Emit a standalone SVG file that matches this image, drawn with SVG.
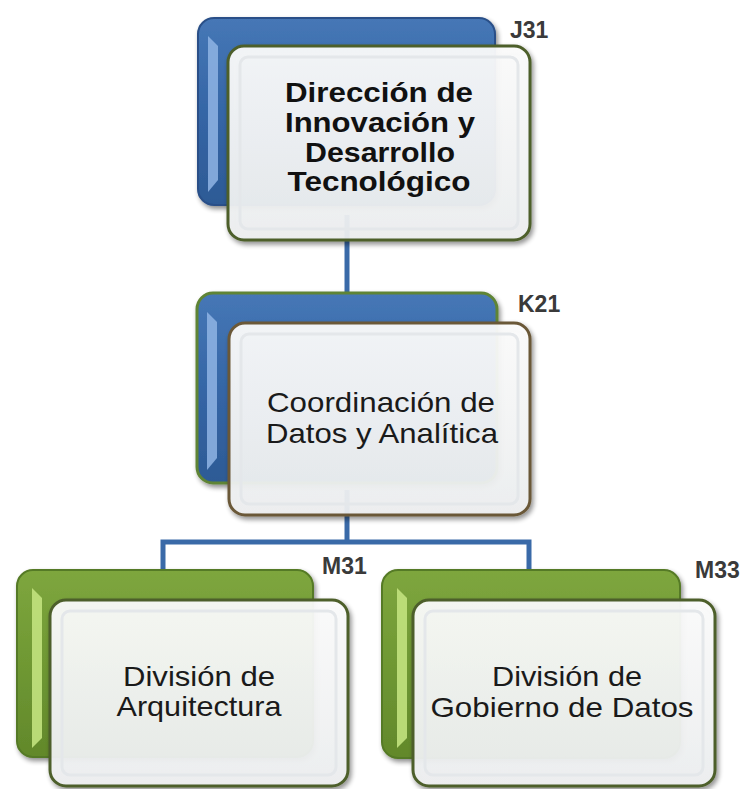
<svg xmlns="http://www.w3.org/2000/svg" width="750" height="789" viewBox="0 0 750 789">
  <defs>
    <linearGradient id="blueG" x1="0" y1="0" x2="0" y2="1">
      <stop offset="0" stop-color="#4677b6"/>
      <stop offset="0.5" stop-color="#3566a6"/>
      <stop offset="1" stop-color="#2d5a95"/>
    </linearGradient>
    <linearGradient id="greenG" x1="0" y1="0" x2="0" y2="1">
      <stop offset="0" stop-color="#7ea63e"/>
      <stop offset="0.5" stop-color="#6f9833"/>
      <stop offset="1" stop-color="#62882b"/>
    </linearGradient>
    <linearGradient id="frontG" x1="0" y1="0" x2="0" y2="1">
      <stop offset="0" stop-color="#fdfdfd"/>
      <stop offset="1" stop-color="#eef0f1"/>
    </linearGradient>
    <filter id="shadow" x="-10%" y="-10%" width="125%" height="125%">
      <feGaussianBlur in="SourceAlpha" stdDeviation="2.5"/>
      <feOffset dx="2" dy="3" result="b"/>
      <feComponentTransfer><feFuncA type="linear" slope="0.45"/></feComponentTransfer>
      <feMerge><feMergeNode/><feMergeNode in="SourceGraphic"/></feMerge>
    </filter>
    <style>
      .back-b { fill: url(#blueG); stroke: #2a5088; stroke-width: 2; }
      .back-bg { fill: url(#blueG); stroke: #5f8436; stroke-width: 3; }
      .back-g { fill: url(#greenG); stroke: #557a25; stroke-width: 2; }
      .bevel-b { fill: #8fb4e4; opacity: 0.85; }
      .bevel-g { fill: #c2e27e; opacity: 0.9; }
      .front { fill: url(#frontG); fill-opacity: 0.93; stroke: #4d5f2c; stroke-width: 3; }
      .front-br { fill: url(#frontG); fill-opacity: 0.93; stroke: #6b5838; stroke-width: 3; }
      .inner { fill: none; stroke: #e4e7ea; stroke-width: 3; }
      .conn { fill: none; stroke: #3a6aa8; stroke-width: 5; }
      .t { font-family: "Liberation Sans", Arial, sans-serif; font-size: 28px; fill: #1a1a1a; text-anchor: middle; }
      .tb { font-family: "Liberation Sans", Arial, sans-serif; font-size: 28px; font-weight: bold; fill: #111; text-anchor: middle; }
      .lbl { font-family: "Liberation Sans", Arial, sans-serif; font-size: 23px; font-weight: bold; fill: #3a3a3a; }
    </style>
  </defs>
  <rect width="750" height="789" fill="#ffffff"/>

  <g id="connectors">
    <path class="conn" d="M347,215 V300"/>
    <path class="conn" d="M347,490 V542"/>
    <path class="conn" d="M163,575 V542 H529 V575"/>
  </g>

  <g id="node-J31">
    <rect class="back-b" x="198" y="18" width="297" height="187" rx="16" filter="url(#shadow)"/>
    <polygon class="bevel-b" points="208,36 218,46 218,180 208,192"/>
    <rect class="front" x="228" y="46" width="302" height="194" rx="16" filter="url(#shadow)"/>
    <rect class="inner" x="240" y="57" width="278" height="172" rx="8"/>
    <text class="tb" x="379" y="102" textLength="188" lengthAdjust="spacingAndGlyphs">Dirección de</text>
    <text class="tb" x="380" y="132" textLength="190" lengthAdjust="spacingAndGlyphs">Innovación y</text>
    <text class="tb" x="380" y="162" textLength="150" lengthAdjust="spacingAndGlyphs">Desarrollo</text>
    <text class="tb" x="379" y="191" textLength="183" lengthAdjust="spacingAndGlyphs">Tecnológico</text>
    <text class="lbl" x="510" y="38">J31</text>
  </g>

  <g id="node-K21">
    <rect class="back-bg" x="197" y="293" width="300" height="190" rx="16" filter="url(#shadow)"/>
    <polygon class="bevel-b" points="207,312 217,322 217,458 207,470"/>
    <rect class="front-br" x="229" y="323" width="301" height="192" rx="16" filter="url(#shadow)"/>
    <rect class="inner" x="241" y="334" width="277" height="170" rx="8"/>
    <text class="t" x="381" y="412" textLength="228" lengthAdjust="spacingAndGlyphs">Coordinación de</text>
    <text class="t" x="382" y="443" textLength="232" lengthAdjust="spacingAndGlyphs">Datos y Analítica</text>
    <text class="lbl" x="518" y="312">K21</text>
  </g>

  <g id="node-M31">
    <rect class="back-g" x="17" y="570" width="296" height="187" rx="16" filter="url(#shadow)"/>
    <polygon class="bevel-g" points="32,588 42,598 42,738 32,748"/>
    <rect class="front" x="50" y="600" width="298" height="186" rx="16" filter="url(#shadow)"/>
    <rect class="inner" x="62" y="611" width="274" height="164" rx="8"/>
    <text class="t" x="199" y="686" textLength="152" lengthAdjust="spacingAndGlyphs">División de</text>
    <text class="t" x="199" y="716" textLength="165" lengthAdjust="spacingAndGlyphs">Arquitectura</text>
    <text class="lbl" x="322" y="574">M31</text>
  </g>

  <g id="node-M33">
    <rect class="back-g" x="382" y="570" width="298" height="188" rx="16" filter="url(#shadow)"/>
    <polygon class="bevel-g" points="397,588 407,598 407,738 397,748"/>
    <rect class="front" x="413" y="600" width="302" height="186" rx="16" filter="url(#shadow)"/>
    <rect class="inner" x="425" y="611" width="278" height="164" rx="8"/>
    <text class="t" x="567" y="686" textLength="150" lengthAdjust="spacingAndGlyphs">División de</text>
    <text class="t" x="562" y="717" textLength="263" lengthAdjust="spacingAndGlyphs">Gobierno de Datos</text>
    <text class="lbl" x="695" y="578">M33</text>
  </g>
</svg>
